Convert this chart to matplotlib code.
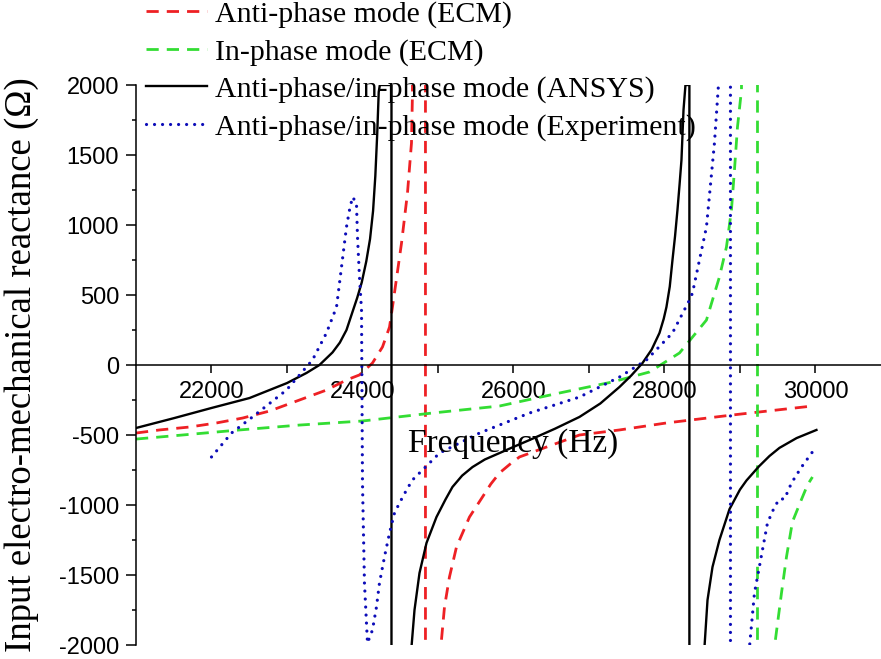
import matplotlib
matplotlib.use("Agg")
import matplotlib.pyplot as plt
from matplotlib.font_manager import FontProperties

# +/-1e5 marks the jump at a resonance
anti_ecm_f = [21000, 21311, 21709, 22066, 22411, 22768, 23166, 23523, 23788, 23960,
              24132, 24265, 24358, 24397, 24517, 24596, 24649, 24662, 24834, 24834,
              25046, 25086, 25152, 25245, 25417, 25589, 25700, 25815, 25950, 26079,
              26437, 26874, 27404, 28026, 28901, 29960]
anti_ecm_x = [-486, -464, -443, -414, -379, -329, -250, -179, -107, -71,
              14, 129, 271, 414, 871, 1229, 1586, 1943, 1e5, -1e5,
              -1964, -1729, -1514, -1300, -1086, -943, -850, -771, -710, -657,
              -586, -500, -464, -414, -357, -293]

in_ecm_f = [21000, 21616, 22371, 23166, 24000, 24927, 25815, 26609, 27311, 27801,
            28199, 28556, 28636, 28728, 28821, 28887, 28927, 28967, 29020, 29232,
            29232, 29457, 29550, 29616, 29695, 29815, 29894, 29960]
in_ecm_x = [-529, -500, -464, -429, -400, -343, -293, -200, -121, -50,
            86, 321, 464, 629, 843, 1107, 1393, 1700, 1964, 1e5,
            -1e5, -2014, -1628, -1371, -1120, -960, -857, -800]

ansys_f = [21000, 21500, 22000, 22503, 23000, 23258, 23430, 23603, 23700, 23788,
           23868, 23930, 23990, 24050, 24100, 24140, 24170, 24195, 24215, 24230,
           24384, 24384,
           24649, 24689, 24755, 24848, 24980, 25100, 25192, 25320, 25457, 25620,
           25815, 26000, 26212, 26550, 26874, 27150, 27404, 27560, 27709, 27830,
           27934, 27990, 28026, 28070, 28106, 28140, 28172, 28200, 28225, 28252,
           28278, 28330, 28330,
           28530, 28570, 28636, 28728, 28861, 29000, 29086, 29250, 29391, 29523,
           29750, 30013]
ansys_x = [-450, -380, -307, -236, -129, -57, 0, 90, 160, 250,
           380, 480, 590, 740, 900, 1100, 1350, 1650, 1950, 2000,
           2000, -1e5,
           -2014, -1750, -1486, -1271, -1086, -960, -871, -790, -729, -675,
           -629, -585, -536, -455, -371, -275, -157, -75, 14, 110,
           229, 330, 414, 560, 750, 920, 1107, 1290, 1464, 1821,
           2000, 2000, -1e5,
           -2014, -1679, -1443, -1250, -1030, -890, -825, -725, -650, -592,
           -522, -464]

exp_f = [22000, 22265, 22543, 22993, 23338, 23523, 23656, 23722, 23788, 23828,
         23868, 23920, 23934, 23960, 23987, 24000, 24026, 24066, 24132, 24185,
         24225, 24291, 24358, 24424, 24490, 24583, 24662, 24795, 24927, 25020,
         25550, 26212, 26874, 27404, 27762, 28106, 28331, 28371, 28556, 28662,
         28715, 28874, 28874, 29126, 29192, 29232, 29298, 29364, 29457, 29523,
         29590, 29682, 29815, 29960]
exp_x = [-657, -486, -371, -179, 36, 229, 414, 700, 986, 1107,
         1200, 1157, 914, 629, 393, -843, -1557, -1986, -1893, -1729,
         -1557, -1371, -1200, -1057, -986, -893, -821, -750, -679, -629,
         -486, -343, -229, -86, 36, 229, 464, 514, 986, 1586,
         2000, 1e5, -1e5, -2014, -1628, -1514, -1321, -1129, -1014, -957,
         -957, -843, -729, -621]

labels = ["Anti-phase mode (ECM)", "In-phase mode (ECM)",
          "Anti-phase/in-phase mode (ANSYS)", "Anti-phase/in-phase mode (Experiment)"]

serif = "Liberation Serif"
plt.rcParams["font.family"] = "Liberation Sans"
plt.rcParams["axes.unicode_minus"] = False

fig = plt.figure(figsize=(8.81, 6.59), dpi=100)
ax = fig.add_axes([136 / 881, 14 / 659, 1 - 136 / 881, 560 / 659])

l1, = ax.plot(anti_ecm_f, anti_ecm_x, color="#ee2024", lw=2.0, dashes=(4.4, 2.9))
l2, = ax.plot(in_ecm_f, in_ecm_x, color="#33dd33", lw=2.0, dashes=(4.4, 2.9))
l3, = ax.plot(ansys_f, ansys_x, color="black", lw=1.7)
l4, = ax.plot(exp_f, exp_x, color="#0c0cb8", lw=2.3, dashes=(0.01, 2.5),
              dash_capstyle="round")

ax.set_xlim(21000, 30868)
ax.set_ylim(-2000, 2000)

ax.spines["top"].set_visible(False)
ax.spines["right"].set_visible(False)
ax.spines["bottom"].set_position(("data", 0))
for s in ["left", "bottom"]:
    ax.spines[s].set_linewidth(1.1)

ax.set_xticks([22000, 24000, 26000, 28000, 30000])
ax.set_xticks([23000, 25000, 27000, 29000], minor=True)
ax.set_yticks(range(-2000, 2001, 500))
ax.set_yticks(range(-1750, 2000, 500), minor=True)
ax.tick_params(axis="x", which="both", direction="out", length=5.8, width=1.1,
               labelsize=17, pad=6)
ax.tick_params(axis="y", which="major", direction="out", length=7.2, width=1.1,
               labelsize=17, pad=5)
ax.tick_params(axis="y", which="minor", direction="out", length=3, width=1.1)

ax.text(26000, -560, "Frequency (Hz)", ha="center", va="center",
        family=serif, fontsize=24)
fig.text(22 / 881, 1 - 365 / 659, "Input electro-mechanical reactance (\u03a9)",
         rotation=90, ha="center", va="center", family=serif, fontsize=26.5)

fig.legend([l1, l2, l3, l4], labels, loc="upper left",
           bbox_to_anchor=(146 / 881, 0.999), frameon=False, borderpad=0,
           borderaxespad=0, handlelength=2.05, handletextpad=0.27,
           labelspacing=0.35, prop=FontProperties(family=serif, size=21.5))

fig.savefig("out.png", dpi=100)
